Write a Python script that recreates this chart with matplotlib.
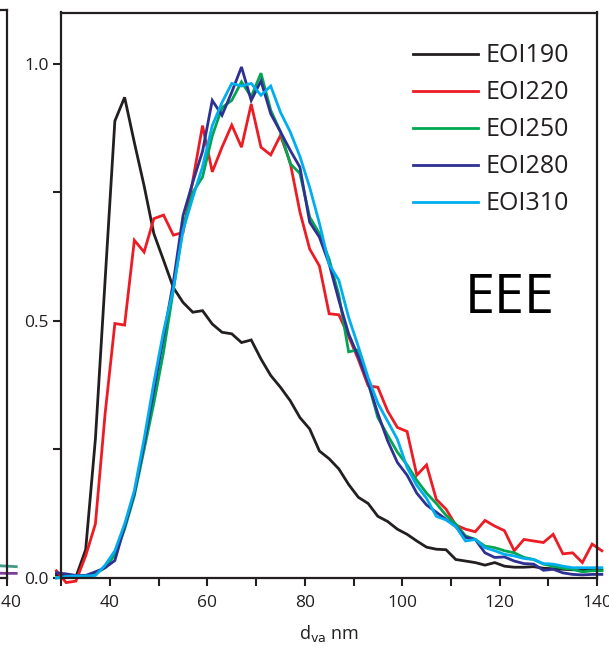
import matplotlib
matplotlib.use("Agg")
import matplotlib.pyplot as plt
from matplotlib.ticker import MultipleLocator, FixedLocator, NullFormatter

plt.rcParams['font.family'] = ['Open Sans', 'DejaVu Sans']

# Aerodynamic diameter bins (nm)
d_va = list(range(29, 142, 2))

eoi190 = [0.006, 0.006, 0.002, 0.055, 0.27, 0.58, 0.889, 0.935, 0.847, 0.763,
          0.67, 0.618, 0.565, 0.536, 0.517, 0.52, 0.494, 0.478, 0.475, 0.458,
          0.463, 0.426, 0.394, 0.371, 0.345, 0.312, 0.29, 0.247, 0.232, 0.212,
          0.182, 0.157, 0.145, 0.12, 0.11, 0.095, 0.085, 0.072, 0.06, 0.056,
          0.055, 0.036, 0.033, 0.03, 0.025, 0.03, 0.023, 0.021, 0.021, 0.022,
          0.019, 0.018, 0.017, 0.016, 0.016, 0.016, 0.015]

eoi220 = [0.014, -0.009, -0.006, 0.043, 0.105, 0.32, 0.495, 0.492, 0.657, 0.634,
          0.699, 0.706, 0.667, 0.672, 0.773, 0.88, 0.79, 0.838, 0.881, 0.838,
          0.922, 0.838, 0.823, 0.861, 0.808, 0.712, 0.64, 0.607, 0.514, 0.512,
          0.47, 0.425, 0.374, 0.371, 0.325, 0.293, 0.285, 0.2, 0.22, 0.153,
          0.134, 0.103, 0.095, 0.09, 0.112, 0.101, 0.092, 0.053, 0.075, 0.072,
          0.069, 0.085, 0.047, 0.049, 0.03, 0.066, 0.053]

eoi250 = [0.0, 0.002, 0.002, 0.003, 0.008, 0.02, 0.045, 0.095, 0.16, 0.25,
          0.34, 0.44, 0.56, 0.682, 0.75, 0.78, 0.86, 0.915, 0.929, 0.965,
          0.936, 0.982, 0.91, 0.868, 0.806, 0.787, 0.702, 0.67, 0.62, 0.55,
          0.44, 0.444, 0.38, 0.312, 0.278, 0.245, 0.22, 0.19, 0.165, 0.145,
          0.122, 0.105, 0.082, 0.075, 0.062, 0.059, 0.053, 0.049, 0.04, 0.036,
          0.027, 0.023, 0.019, 0.017, 0.012, 0.014, 0.014]

eoi280 = [0.01, 0.008, 0.005, 0.005, 0.012, 0.02, 0.034, 0.1, 0.165, 0.26,
          0.365, 0.47, 0.575, 0.705, 0.77, 0.83, 0.929, 0.9, 0.945, 0.994,
          0.929, 0.967, 0.903, 0.868, 0.832, 0.799, 0.692, 0.663, 0.611, 0.54,
          0.475, 0.43, 0.38, 0.32, 0.267, 0.225, 0.2, 0.165, 0.142, 0.128,
          0.114, 0.1, 0.079, 0.075, 0.049, 0.04, 0.041, 0.033, 0.028, 0.027,
          0.015, 0.017, 0.01, 0.007, 0.006, 0.007, 0.007]

eoi310 = [0.0, 0.003, 0.004, 0.004, 0.005, 0.025, 0.053, 0.105, 0.17, 0.27,
          0.38, 0.48, 0.562, 0.676, 0.74, 0.8, 0.88, 0.925, 0.962, 0.957,
          0.962, 0.939, 0.957, 0.906, 0.868, 0.82, 0.76, 0.69, 0.61, 0.579,
          0.507, 0.45, 0.39, 0.34, 0.305, 0.27, 0.215, 0.18, 0.155, 0.12,
          0.113, 0.1, 0.072, 0.075, 0.059, 0.053, 0.046, 0.043, 0.038, 0.036,
          0.028, 0.027, 0.023, 0.02, 0.02, 0.02, 0.02]

series = [("EOI190", eoi190, "#231f20"),
          ("EOI220", eoi220, "#ed1c24"),
          ("EOI250", eoi250, "#00a651"),
          ("EOI280", eoi280, "#2e3192"),
          ("EOI310", eoi310, "#00aeef")]

# tail of the neighbouring panel on the left
nb_x = [128, 132, 136, 140, 142]
nb_teal = [0.03, 0.027, 0.025, 0.023, 0.022]
nb_purple = [0.012, 0.011, 0.01, 0.009, 0.009]

x_ticks = [40, 60, 80, 100, 120, 140]
y_ticks = [0.0, 0.5, 1.0]

W, H = 609, 652
fig = plt.figure(figsize=(W / 100, H / 100), dpi=100)

spine_col = "#231f20"
left_px, right_px, top_px, bot_px = 61.3, 597.0, 12.5, 578.0
pos = [left_px / W, 1 - bot_px / H, (right_px - left_px) / W, (bot_px - top_px) / H]


def style_axes(a):
    a.set_xlim(30, 140)
    a.set_ylim(0, 1.1)
    for s in a.spines.values():
        s.set_linewidth(1.6)
        s.set_color(spine_col)
    a.xaxis.set_major_locator(FixedLocator(x_ticks))
    a.xaxis.set_minor_locator(MultipleLocator(10))
    a.yaxis.set_major_locator(FixedLocator(y_ticks))
    a.yaxis.set_minor_locator(MultipleLocator(0.25))
    a.tick_params(which="both", direction="out", length=6, width=1.5,
                  color=spine_col, labelsize=12.5, labelcolor=spine_col)
    a.tick_params(axis="x", pad=6)
    a.tick_params(axis="y", pad=3)


# neighbouring panel, mostly outside the canvas; only its last x label shows
nb_right = 6.5
ax0 = fig.add_axes([(nb_right - (right_px - left_px)) / W, 1 - bot_px / H,
                    (right_px - left_px) / W, (bot_px - 10) / H])
style_axes(ax0)
ax0.set_xticks(x_ticks)
ax0.set_xticklabels(["" for _ in x_ticks[:-1]] + [str(x_ticks[-1])])
ax0.yaxis.set_major_formatter(NullFormatter())
ax0.plot(nb_x, nb_teal, color="#3f9a86", lw=2.0, clip_on=False)
ax0.plot(nb_x, nb_purple, color="#7d3c98", lw=2.0, clip_on=False)

ax = fig.add_axes(pos)
style_axes(ax)
ax.set_yticklabels([f"{v:.1f}" for v in y_ticks])

for name, vals, col in series:
    ax.plot(d_va, vals, color=col, lw=2.0, label=name, clip_on=False,
            solid_joinstyle="miter")

leg = ax.legend(loc="upper right", bbox_to_anchor=(0.976, 0.972), frameon=False,
                fontsize=18, handlelength=2.6, handletextpad=0.3,
                labelspacing=0.48, borderaxespad=0.2)
for t in leg.get_texts():
    t.set_color(spine_col)

ax.text(0.837, 0.495, "EEE", transform=ax.transAxes, fontsize=39,
        ha="center", va="center", color="black")

ax.set_xlabel(r"d$_{\mathrm{va}}$ nm", fontsize=13, color=spine_col, labelpad=9)

fig.savefig("out.png", dpi=100)
